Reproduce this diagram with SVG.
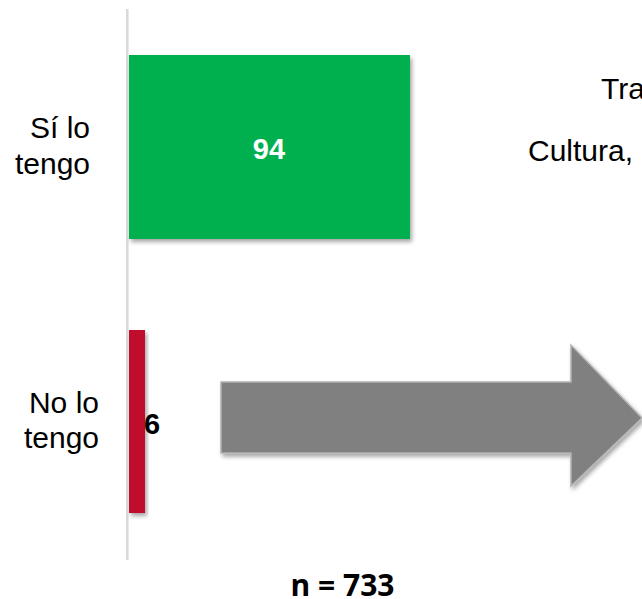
<svg xmlns="http://www.w3.org/2000/svg" width="642" height="599" viewBox="0 0 642 599">
  <style>
    .lbl { font-family: "Liberation Sans", Arial, sans-serif; font-size: 30px; fill: #000; }
    .val { font-family: "Liberation Sans", Arial, sans-serif; font-size: 29px; font-weight: bold; }
    .n { font-family: "Open Sans", "Liberation Sans", sans-serif; font-size: 30px; font-weight: bold; fill: #000; }
  </style>
  <defs>
    <filter id="sh" x="-10%" y="-10%" width="130%" height="130%">
      <feDropShadow dx="2" dy="3" stdDeviation="2" flood-color="#000" flood-opacity="0.35"/>
    </filter>
  </defs>
  <rect width="642" height="599" fill="#fff"/>
  <g id="axis">
    <line x1="127.3" y1="9" x2="127.3" y2="560" stroke="#d9d9d9" stroke-width="2.5"/>
  </g>
  <g id="bar-si">
    <rect x="129" y="55" width="281" height="184" fill="#00b050" filter="url(#sh)"/>
    <text class="val" x="269" y="159" text-anchor="middle" fill="#fff">94</text>
  </g>
  <g id="label-si">
    <text class="lbl" x="90" y="138" text-anchor="end">Sí lo</text>
    <text class="lbl" x="90" y="174" text-anchor="end">tengo</text>
  </g>
  <g id="bar-no">
    <rect x="129" y="330" width="16" height="183" fill="#c0092e" filter="url(#sh)"/>
    <text class="val" x="144" y="434" fill="#000">6</text>
  </g>
  <g id="label-no">
    <text class="lbl" x="99" y="413" text-anchor="end">No lo</text>
    <text class="lbl" x="99" y="448" text-anchor="end">tengo</text>
  </g>
  <g id="side-text">
    <text class="lbl" x="601" y="99">Tra</text>
    <text class="lbl" x="528" y="161">Cultura,</text>
  </g>
  <g id="connectors">
    <path d="M221,382 H571 V345 L642,418 L571,486 V453 H221 Z" fill="#808080" stroke="#b3b3b3" stroke-width="1.5" filter="url(#sh)"/>
  </g>
  <g id="sample">
    <text class="n" x="342.5" y="596" text-anchor="middle">n = 733</text>
  </g>
</svg>
